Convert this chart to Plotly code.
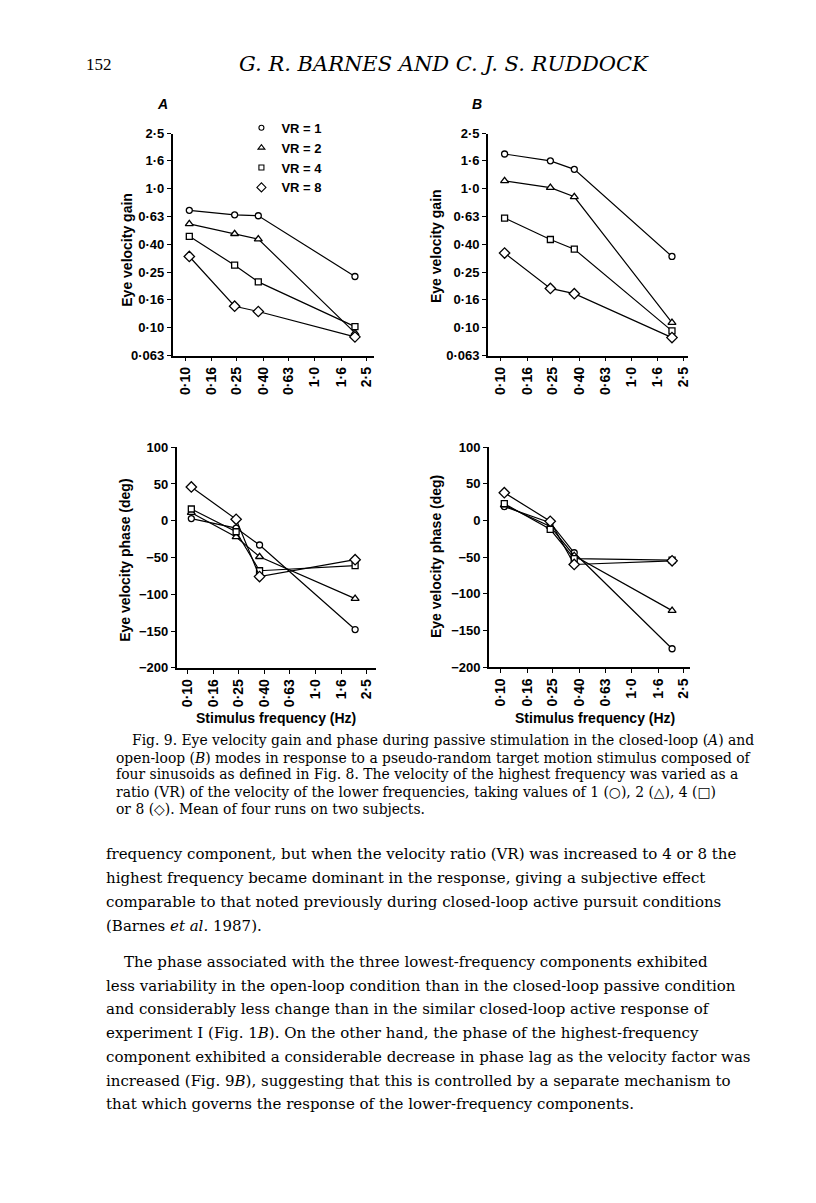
import math
import plotly.graph_objects as go

W, H = 816, 1203

# ---------------- data ----------------
freq = [0.107, 0.24, 0.366, 2.05]
series_names = ["VR = 1", "VR = 2", "VR = 4", "VR = 8"]
symbols = ["circle", "triangle-up", "square", "diamond"]
msizes = [6, 7, 6, 8]

gain_A = {
    "VR = 1": [0.70, 0.65, 0.64, 0.234],
    "VR = 2": [0.56, 0.475, 0.435, 0.092],
    "VR = 4": [0.455, 0.282, 0.214, 0.102],
    "VR = 8": [0.326, 0.143, 0.131, 0.086],
}
gain_B = {
    "VR = 1": [1.78, 1.59, 1.38, 0.326],
    "VR = 2": [1.14, 1.02, 0.876, 0.109],
    "VR = 4": [0.616, 0.432, 0.368, 0.095],
    "VR = 8": [0.345, 0.192, 0.176, 0.085],
}
phase_A = {
    "VR = 1": [3, -10, -33, -148],
    "VR = 2": [11, -22, -49, -106],
    "VR = 4": [16, -15, -68, -61],
    "VR = 8": [46, 2, -76, -53],
}
phase_B = {
    "VR = 1": [19, -3, -44, -175],
    "VR = 2": [21, -8, -48, -123],
    "VR = 4": [23, -12, -52, -54],
    "VR = 8": [38, -1, -60, -55],
}

x_tickvals = [0.10, 0.16, 0.25, 0.40, 0.63, 1.0, 1.6, 2.5]
x_ticktext = ["0·10", "0·16", "0·25", "0·40", "0·63", "1·0", "1·6", "2·5"]
gain_tickvals = [0.063, 0.10, 0.16, 0.25, 0.40, 0.63, 1.0, 1.6, 2.5]
gain_ticktext = ["0·063", "0·10", "0·16", "0·25", "0·40", "0·63", "1·0", "1·6", "2·5"]
phase_tickvals = [-200, -150, -100, -50, 0, 50, 100]
phase_ticktext = ["−200", "−150", "−100", "−50", "0", "50", "100"]

header_page = "152"
header_title = "G. R. BARNES AND C. J. S. RUDDOCK"
caption_lines = [
    "Fig. 9. Eye velocity gain and phase during passive stimulation in the closed-loop (<i>A</i>) and",
    "open-loop (<i>B</i>) modes in response to a pseudo-random target motion stimulus composed of",
    "four sinusoids as defined in Fig. 8. The velocity of the highest frequency was varied as a",
    "ratio (VR) of the velocity of the lower frequencies, taking values of 1 (○), 2 (△), 4 (□)",
    "or 8 (◇). Mean of four runs on two subjects.",
]
body_lines = [
    "frequency component, but when the velocity ratio (VR) was increased to 4 or 8 the",
    "highest frequency became dominant in the response, giving a subjective effect",
    "comparable to that noted previously during closed-loop active pursuit conditions",
    "(Barnes <i>et al.</i> 1987).",
    "The phase associated with the three lowest-frequency components exhibited",
    "less variability in the open-loop condition than in the closed-loop passive condition",
    "and considerably less change than in the similar closed-loop active response of",
    "experiment I (Fig. 1<i>B</i>). On the other hand, the phase of the highest-frequency",
    "component exhibited a considerable decrease in phase lag as the velocity factor was",
    "increased (Fig. 9<i>B</i>), suggesting that this is controlled by a separate mechanism to",
    "that which governs the response of the lower-frequency components.",
]

# ---------------- layout helpers ----------------
OFF = 8  # page body margin of the html page


def fx(px):
    return (px - OFF) / W


def fy(py):
    return 1 - (py - OFF) / H


SANS = "Liberation Sans, Arial, sans-serif"
SERIF = "DejaVu Serif, serif"
TIMES = "Liberation Serif, Times New Roman, serif"

fig = go.Figure()

panels = [
    ("x", "y", gain_A),
    ("x2", "y2", gain_B),
    ("x3", "y3", phase_A),
    ("x4", "y4", phase_B),
]
for xa, ya, data in panels:
    for name, sym, ms in zip(series_names, symbols, msizes):
        fig.add_trace(go.Scatter(
            x=freq, y=data[name], xaxis=xa, yaxis=ya,
            mode="lines+markers", showlegend=False,
            line=dict(color="black", width=1.2),
            marker=dict(symbol=sym, size=ms, color="white",
                        line=dict(color="black", width=1.3)),
            cliponaxis=False,
        ))

# legend entries (panel A)
for name, sym, ms in zip(series_names, symbols, msizes):
    fig.add_trace(go.Scatter(
        x=[None], y=[None], xaxis="x", yaxis="y", name=name,
        mode="markers", showlegend=True,
        marker=dict(symbol=sym, size=ms - 1, color="white",
                    line=dict(color="black", width=1.1)),
    ))


def xaxis_cfg(d0, d1, r0, r1, anchor):
    return dict(
        type="log", domain=[fx(d0), fx(d1)], range=[r0, r1], anchor=anchor,
        tickmode="array", tickvals=x_tickvals,
        ticktext=[f"<b>{t}</b>" for t in x_ticktext],
        tickangle=-90, ticks="outside", ticklen=4, tickwidth=1.3,
        tickcolor="black", showline=True, linecolor="black", linewidth=1.5,
        showgrid=False, zeroline=False,
        tickfont=dict(family=SANS, size=14, color="black"),
    )


def yaxis_cfg(d_bottom, d_top, rng, typ, vals, texts, anchor):
    return dict(
        type=typ, domain=[fy(d_bottom), fy(d_top)], range=rng, anchor=anchor,
        tickmode="array", tickvals=vals, ticktext=[f"<b>{t}</b>" for t in texts],
        ticks="outside", ticklen=4, tickwidth=1.3, tickcolor="black",
        showline=True, linecolor="black", linewidth=1.5,
        showgrid=False, zeroline=False,
        tickfont=dict(family=SANS, size=13, color="black"),
    )


g_rng = [math.log10(0.063), math.log10(2.5)]

fig.update_layout(
    width=W, height=H, margin=dict(l=0, r=0, t=0, b=0),
    paper_bgcolor="white", plot_bgcolor="rgba(0,0,0,0)",
    xaxis=xaxis_cfg(173, 375, -1.100, 0.460, "y"),
    yaxis=yaxis_cfg(353, 128, g_rng, "log", gain_tickvals, gain_ticktext, "x"),
    xaxis2=xaxis_cfg(489, 690, -1.099, 0.437, "y2"),
    yaxis2=yaxis_cfg(353, 128, g_rng, "log", gain_tickvals, gain_ticktext, "x2"),
    xaxis3=xaxis_cfg(177, 377, -1.086, 0.476, "y3"),
    yaxis3=yaxis_cfg(669, 445.7, [-200, 100], "linear", phase_tickvals, phase_ticktext, "x3"),
    xaxis4=xaxis_cfg(490, 692, -1.089, 0.451, "y4"),
    yaxis4=yaxis_cfg(668.3, 445.7, [-200, 100], "linear", phase_tickvals, phase_ticktext, "x4"),
    legend=dict(
        x=fx(242), y=fy(107), xanchor="left", yanchor="top",
        bgcolor="rgba(0,0,0,0)", borderwidth=0,
        font=dict(family=SANS, size=13, color="black", weight="bold"),
        itemwidth=30, tracegroupgap=0,
    ),
)

ann = []


def add_text(text, x, y, size, family, xanchor="center", yanchor="middle",
             angle=0, bold=False, italic=False):
    t = text
    if bold:
        t = f"<b>{t}</b>"
    if italic:
        t = f"<i>{t}</i>"
    ann.append(dict(text=t, x=fx(x), y=fy(y), xref="paper", yref="paper",
                    xanchor=xanchor, yanchor=yanchor, textangle=angle,
                    showarrow=False, font=dict(family=family, size=size, color="black")))


# axis titles
add_text("Eye velocity gain", 127, 246, 14, SANS, angle=-90, bold=True)
add_text("Eye velocity gain", 437, 242, 14, SANS, angle=-90, bold=True)
add_text("Eye velocity phase (deg)", 125, 560, 14, SANS, angle=-90, bold=True)
add_text("Eye velocity phase (deg)", 437, 556, 14, SANS, angle=-90, bold=True)
add_text("Stimulus frequency (Hz)", 277, 720, 14, SANS, bold=True)
add_text("Stimulus frequency (Hz)", 596, 720, 14, SANS, bold=True)
# panel letters
add_text("A", 163, 98, 14, SANS, bold=True, italic=True)
add_text("B", 478, 98, 14, SANS, bold=True, italic=True)

# header
add_text(header_page, 84, 58, 17, TIMES, xanchor="left")
add_text(header_title, 445, 58, 21, SERIF, italic=True)

# caption
cap_y = [742, 760, 777, 795, 812]
for i, (line, yy) in enumerate(zip(caption_lines, cap_y)):
    add_text(line, 130 if i == 0 else 114, yy, 13.9, SERIF, xanchor="left")

# body
body_y = [858, 882, 906, 930, 967, 991, 1015, 1039, 1063, 1087, 1111]
for i, (line, yy) in enumerate(zip(body_lines, body_y)):
    add_text(line, 122 if i == 4 else 104, yy, 15, SERIF, xanchor="left")

fig.update_layout(annotations=ann)

fig.write_html("out.html")
